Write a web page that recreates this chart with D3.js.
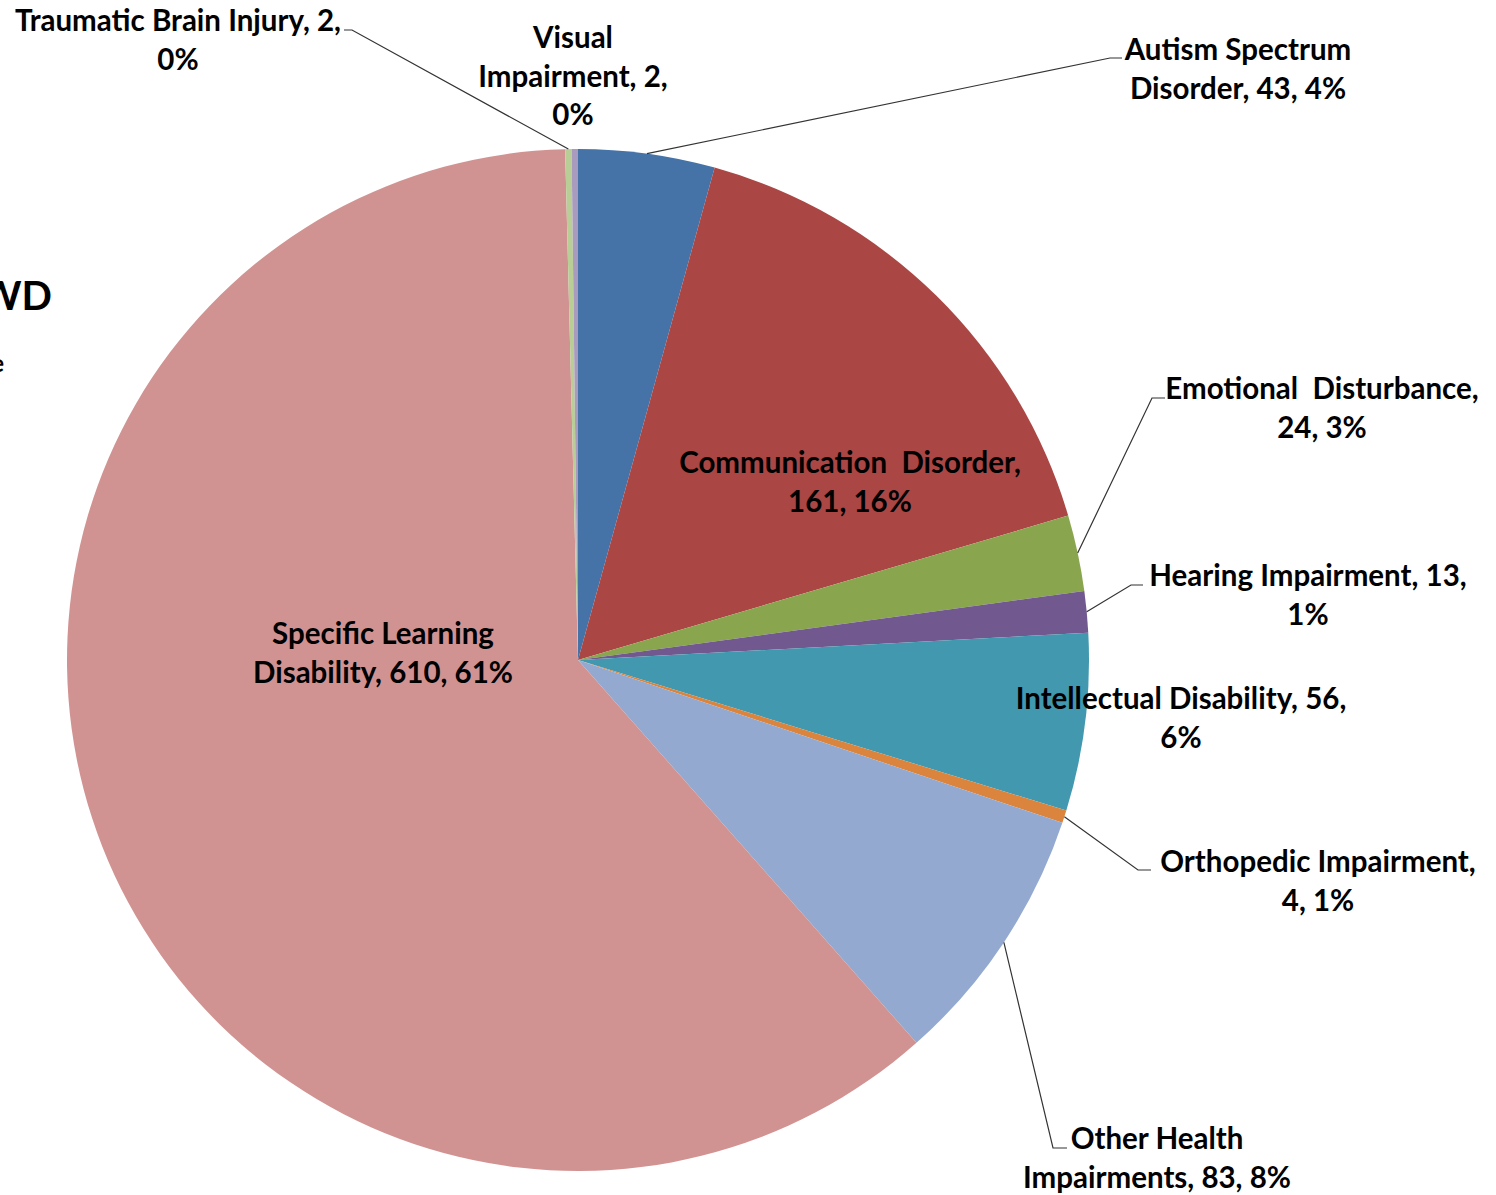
<!DOCTYPE html>
<html>
<head>
<meta charset="utf-8">
<script src="https://cdn.jsdelivr.net/npm/d3@7"></script>
<style>
  body { margin: 0; background: #fff; }
  svg { display: block; }
  text { font-family: Lato, "Open Sans", sans-serif; font-weight: bold; fill: #000; }
</style>
</head>
<body>
<svg id="chart"></svg>
<script>
// categories and counts, in the order the slices run clockwise from the top
let categories = ['Autism Spectrum Disorder', 'Communication Disorder', 'Emotional Disturbance',
  'Hearing Impairment', 'Intellectual Disability', 'Orthopedic Impairment',
  'Other Health Impairments', 'Specific Learning Disability', 'Traumatic Brain Injury',
  'Visual Impairment']
let counts = [43, 161, 24, 13, 56, 4, 83, 610, 2, 2]
let percents = ['4%', '16%', '3%', '1%', '6%', '1%', '8%', '61%', '0%', '0%']

// label text, already broken into lines as in the picture
let labelLines = [
  ['Autism Spectrum', 'Disorder, 43, 4%'],
  ['Communication  Disorder,', '161, 16%'],
  ['Emotional  Disturbance,', '24, 3%'],
  ['Hearing Impairment, 13,', '1%'],
  ['Intellectual Disability, 56,', '6%'],
  ['Orthopedic Impairment,', '4, 1%'],
  ['Other Health', 'Impairments, 83, 8%'],
  ['Specific Learning', 'Disability, 610, 61%'],
  ['Traumatic Brain Injury, 2,', '0%'],
  ['Visual', 'Impairment, 2,', '0%']
]

let colors = ['#4572A7', '#AA4643', '#89A54E', '#71588F', '#4198AF',
  '#DB843D', '#93A9CF', '#D19392', '#B9CD96', '#A99BBD']

let width = 1496
let height = 1195
let cx = 578
let cy = 660
let radius = 511
let lineGap = 38.5
let fontSize = 29.5

// label layout: centre x, y of first line, and the leader elbow (tick from elbow to text)
let labelLayout = [
  { x: 1238, y: 50, elbow: [1110, 58], tick: [1122, 58] },
  { x: 850, y: 463 },
  { x: 1322, y: 389, elbow: [1152, 398], tick: [1165, 398] },
  { x: 1308, y: 576, elbow: [1131, 585], tick: [1143, 585] },
  { x: 1181, y: 699 },
  { x: 1318, y: 862, elbow: [1138, 870], tick: [1151, 870] },
  { x: 1157, y: 1139, elbow: [1053, 1148], tick: [1067, 1148] },
  { x: 383, y: 634 },
  { x: 178, y: 21, elbow: [352, 30], tick: [344, 30] },
  { x: 573, y: 38 }
]

let svg = d3.select('#chart')
  .attr('width', width)
  .attr('height', height)

// title text that is cut off at the left edge in the picture
svg.append('text')
  .attr('x', 52).attr('y', 310)
  .attr('text-anchor', 'end')
  .style('font-size', '40px')
  .text('SWD')
svg.append('text')
  .attr('x', 4).attr('y', 372)
  .attr('text-anchor', 'end')
  .style('font-size', '24px')
  .text('Type')

let data = categories.map((c, i) => ({ name: c, value: counts[i], pct: percents[i], i: i }))

let pie = d3.pie()
  .sort(null)
  .value(d => d.value)

let arc = d3.arc()
  .innerRadius(0)
  .outerRadius(radius)

let arcs = pie(data)

let g = svg.append('g')
  .attr('transform', 'translate(' + cx + ',' + cy + ')')

g.selectAll('path')
  .data(arcs)
  .enter()
  .append('path')
  .attr('d', arc)
  .attr('fill', d => colors[d.data.i])

// leader lines: from the slice's outer middle to the elbow, then a short tick
let outerPoint = (d) => {
  let a = (d.startAngle + d.endAngle) / 2
  return [cx + radius * Math.sin(a), cy - radius * Math.cos(a)]
}

arcs.forEach(d => {
  let lay = labelLayout[d.data.i]
  if (!lay.elbow) return
  let p = outerPoint(d)
  svg.append('polyline')
    .attr('points', [p, lay.elbow, lay.tick].map(q => q.join(',')).join(' '))
    .attr('fill', 'none')
    .attr('stroke', '#333')
    .attr('stroke-width', 1.2)
})

// data labels
arcs.forEach(d => {
  let lay = labelLayout[d.data.i]
  let t = svg.append('text')
    .attr('text-anchor', 'middle')
    .style('font-size', fontSize + 'px')
  labelLines[d.data.i].forEach((line, k) => {
    t.append('tspan')
      .attr('x', lay.x)
      .attr('y', lay.y + k * lineGap)
      .attr('dy', '0.35em')
      .attr('xml:space', 'preserve')
      .style('white-space', 'pre')
      .text(line)
  })
})
</script>
</body>
</html>
